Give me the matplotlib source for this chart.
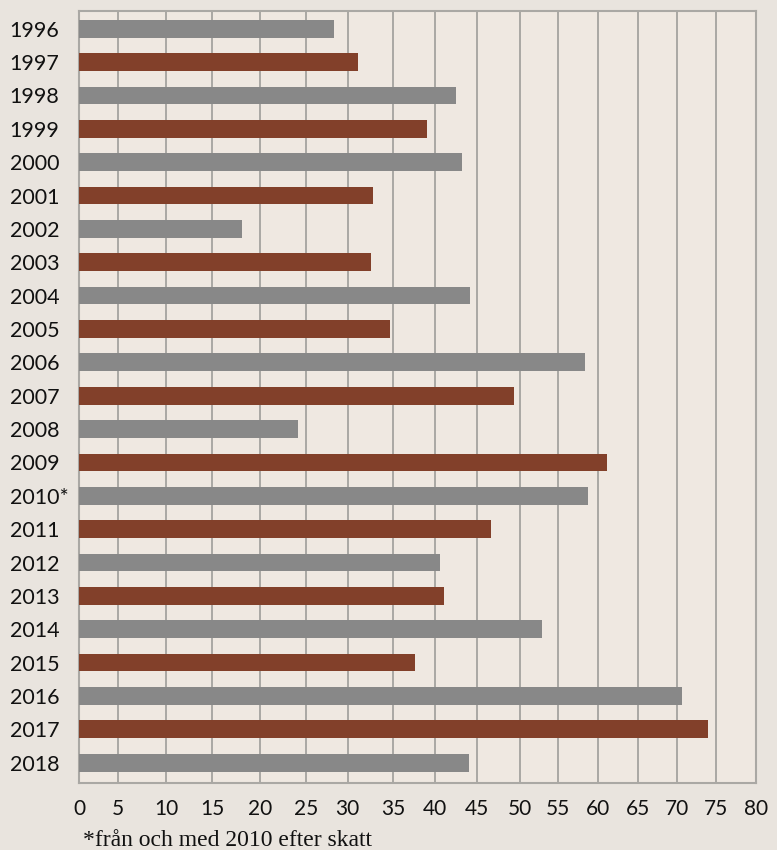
import numpy as np
import matplotlib
matplotlib.use('Agg')
import matplotlib.pyplot as plt

years = ['1996', '1997', '1998', '1999', '2000', '2001', '2002', '2003',
         '2004', '2005', '2006', '2007', '2008', '2009', '2010*', '2011',
         '2012', '2013', '2014', '2015', '2016', '2017', '2018']
values = [28.3, 31.1, 42.5, 39.0, 43.2, 32.8, 18.1, 32.6,
          44.2, 34.6, 58.4, 49.3, 24.1, 61.2, 58.8, 46.6,
          40.6, 41.1, 52.9, 37.6, 70.6, 73.9, 44.1]
x_ticks = list(range(0, 81, 5))
footnote = '*från och med 2010 efter skatt'

# the source chart's gridlines are not evenly spaced, so the x axis uses a
# piecewise scale calibrated on where each tick sits in the picture
tick_pos = [79, 117.7, 166, 212, 260.3, 306.2, 347.7, 393.3, 435,
            476.7, 520.3, 558, 597.7, 637.7, 677.3, 716.3, 756]

def fwd(v):
    return np.interp(v, x_ticks, tick_pos, left=-1e9, right=1e9)

def inv(p):
    return np.interp(p, tick_pos, x_ticks)

gray = '#888888'
brown = '#82402a'
colors = [gray if i % 2 == 0 else brown for i in range(len(years))]

fig = plt.figure(figsize=(7.77, 8.5), dpi=100)
fig.patch.set_facecolor('#e9e4de')
ax = fig.add_axes([79 / 777, 1 - 782.7 / 850, 677 / 777, 772 / 850])
ax.set_facecolor('#efe8e1')

ypos = np.arange(len(years))
ax.barh(ypos, values, height=0.53, color=colors, zorder=3)

ax.set_xscale('function', functions=(fwd, inv))
ax.set_xlim(0, 80)
ax.set_ylim(len(years) - 1 + 0.6, -0.54)

ax.set_xticks(x_ticks)
ax.set_xticklabels([str(t) for t in x_ticks], fontsize=15, family='Lato', color='#111111')
ax.set_yticks(ypos)
ax.set_yticklabels(years, fontsize=15.5, family='Lato', color='#111111', ha='left')
ax.tick_params(axis='y', length=0, pad=50)
ax.tick_params(axis='x', length=0, pad=12)
ax.xaxis.set_minor_locator(matplotlib.ticker.NullLocator())

ax.grid(axis='x', color='#aaa8a4', linewidth=1.4, zorder=1)
ax.set_axisbelow(True)
for s in ax.spines.values():
    s.set_color('#aaa8a4')
    s.set_linewidth(1.5)

fig.text(83 / 777, 1 - 840 / 850, footnote, family='Liberation Serif',
         fontsize=17, color='#111111', va='center', ha='left')

fig.savefig('out.png', dpi=100, facecolor=fig.get_facecolor())
